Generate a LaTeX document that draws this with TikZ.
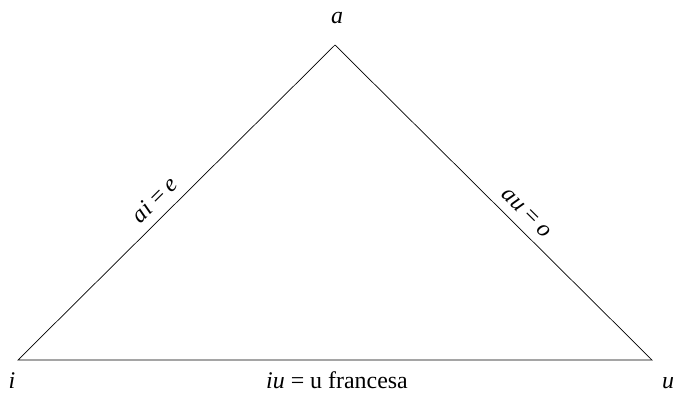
\documentclass[tikz,border=0pt]{standalone}
\usepackage{fontspec}
\setmainfont{Liberation Serif}
\usepackage{tikz}
\usetikzlibrary{positioning}

\begin{document}
\begin{tikzpicture}[x=1bp,y=1bp,
        vowel/.style={font=\fontsize{24}{28}\selectfont\itshape,anchor=base},
        edgelbl/.style={font=\fontsize{24}{28}\selectfont,sloped,above=6bp}]
        \useasboundingbox (0,0) rectangle (674,395);
        % corners of the triangle
        \coordinate (A) at (335,350);
        \coordinate (I) at (18,35);
        \coordinate (U) at (652,35);
        % vowel names
        \node[vowel] (la) at (337,372) {a};
        \node[vowel] (li) at (12,7) {i};
        \node[vowel] (lu) at (668,7) {u};
        \draw[line width=0.7pt] (I) -- node[edgelbl,pos=0.47] (ai) {\textit{ai} = \textit{e}} (A)
                        -- node[edgelbl,pos=0.57] (au) {\textit{au} = \textit{o}} (U)
                        -- cycle;
        \node[anchor=base,font=\fontsize{24}{28}\selectfont] (iu) at (337,7)
          {\textit{iu} = u francesa};
      \end{tikzpicture}
\end{document}
